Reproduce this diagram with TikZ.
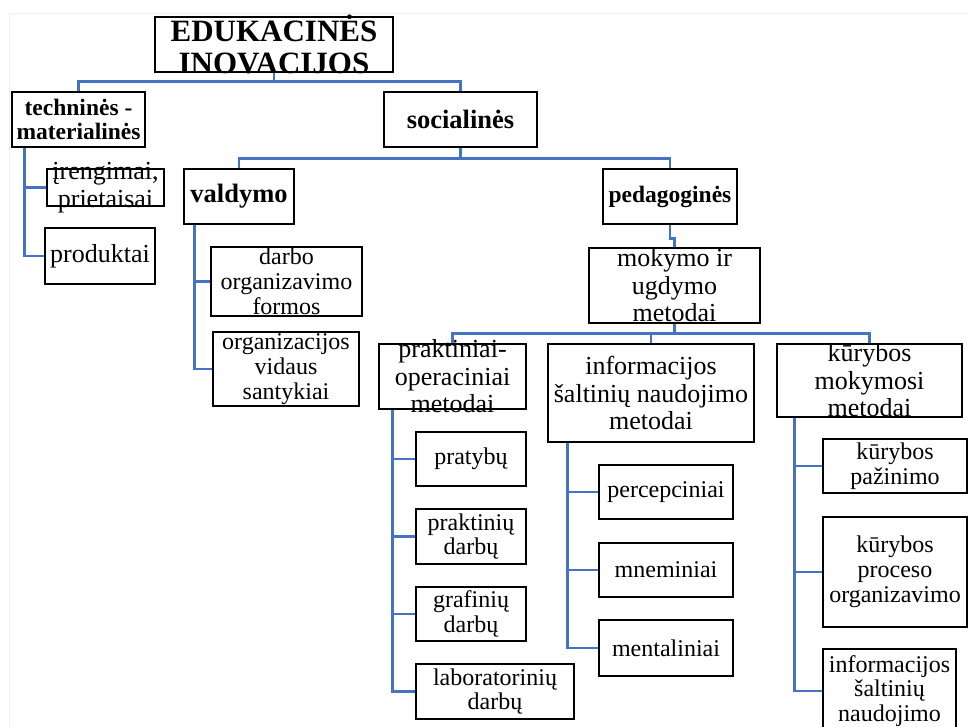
\documentclass[tikz,border=0pt]{standalone}
\usepackage{fontspec}
\setmainfont{Liberation Serif}

\definecolor{linkblue}{HTML}{4472C4}
\definecolor{framegray}{HTML}{EEEFF5}

\tikzset{
  box/.style={draw=black, line width=2.8pt, rectangle, inner sep=0pt},
  link/.style={draw=linkblue, line width=2.4pt},
  ttl/.style={inner sep=0pt, align=center, font=\bfseries\fontsize{31}{31.5}\selectfont},
  bsm/.style={inner sep=0pt, align=center, font=\bfseries\fontsize{23.5}{24.5}\selectfont},
  blg/.style={inner sep=0pt, align=center, font=\bfseries\fontsize{26.5}{27}\selectfont},
  tlg/.style={inner sep=0pt, align=center, font=\fontsize{26}{27.5}\selectfont},
  tsm/.style={inner sep=0pt, align=center, font=\fontsize{24}{24.8}\selectfont},
}

% #1 name, #2 left, #3 top, #4 right, #5 bottom, #6 text style, #7 text
\newcommand{\cellbox}[7]{%
  \node[box, minimum width={(#4)-(#2)}, minimum height={(#5)-(#3)}]
    (#1) at ({((#2)+(#4))/2},{((#3)+(#5))/2}) {};
  \node[#6] (#1-txt) at (#1.center) {#7};
}

\begin{document}
\begin{tikzpicture}[x=1pt,y=-1pt]
\useasboundingbox (0,0) rectangle (968,727);
\clip (0,0) rectangle (968,727);

% faint page frame
\draw[framegray, line width=1pt] (9,740) -- (9,14) -- (980,14);

% boxes
\cellbox{title}{155}{17}{393}{72}{ttl}{EDUKACINĖS\\INOVACIJOS}
\cellbox{tech}{12}{92}{145}{147}{bsm}{techninės -\\materialinės}
\cellbox{soc}{384}{92}{537}{147}{blg}{socialinės}
\cellbox{iren}{47}{169}{164}{206}{tlg}{įrengimai,\\prietaisai}
\cellbox{prod}{45}{228}{155}{284}{tlg}{produktai}
\cellbox{vald}{184}{169}{294}{224}{blg}{valdymo}
\cellbox{ped}{603}{169}{737}{224}{bsm}{pedagoginės}
\cellbox{darbo}{211}{247}{362}{316}{tsm}{darbo\\organizavimo\\formos}
\cellbox{orgv}{213}{332}{359}{406}{tsm}{organizacijos\\vidaus\\santykiai}
\cellbox{mok}{589}{248}{760}{323}{tlg}{mokymo ir\\ugdymo\\metodai}
\cellbox{prak}{379}{344}{526}{409}{tlg}{praktiniai-\\operaciniai\\metodai}
\cellbox{info}{548}{344}{754}{442}{tlg}{informacijos\\šaltinių naudojimo\\metodai}
\cellbox{kur}{777}{344}{962}{417}{tlg}{kūrybos\\mokymosi\\metodai}
\cellbox{prat}{416}{432}{526}{486}{tsm}{pratybų}
\cellbox{prd}{416}{509}{526}{564}{tsm}{praktinių\\darbų}
\cellbox{graf}{416}{587}{526}{641}{tsm}{grafinių\\darbų}
\cellbox{lab}{416}{664}{574}{719}{tsm}{laboratorinių\\darbų}
\cellbox{perc}{599}{465}{733}{519}{tsm}{percepciniai}
\cellbox{mnem}{599}{543}{733}{597}{tsm}{mneminiai}
\cellbox{ment}{599}{620}{733}{676}{tsm}{mentaliniai}
\cellbox{kpaz}{823}{439}{967}{493}{tsm}{kūrybos\\pažinimo}
\cellbox{kproc}{823}{517}{967}{627}{tsm}{kūrybos\\proceso\\organizavimo}
\cellbox{kinf}{823}{649}{956}{733}{tsm}{informacijos\\šaltinių\\naudojimo}

% tree links
\draw[link] (title.south) -- +(0,8) -| (tech.north);
\draw[link] (title.south) -- +(0,8) -| (soc.north);
\draw[link] (soc.south) -- +(0,10) -| (vald.north);
\draw[link] (soc.south) -- +(0,10) -| (ped.north);
\draw[link] (ped.south) -- +(0,13) -| (mok.north);
\draw[link] (mok.south) -- +(0,9) -| (prak.north);
\draw[link] (mok.south) -- +(0,9) -| (info.north);
\draw[link] (mok.south) -- +(0,9) -| (kur.north);

% side links
\draw[link] ([xshift=14pt]tech.south west) |- (iren.west);
\draw[link] ([xshift=14pt]tech.south west) |- (prod.west);
\draw[link] ([xshift=12pt]vald.south west) |- (darbo.west);
\draw[link] ([xshift=12pt]vald.south west) |- (orgv.west);
\draw[link] ([xshift=15pt]prak.south west) |- (prat.west);
\draw[link] ([xshift=15pt]prak.south west) |- (prd.west);
\draw[link] ([xshift=15pt]prak.south west) |- (graf.west);
\draw[link] ([xshift=15pt]prak.south west) |- (lab.west);
\draw[link] ([xshift=21pt]info.south west) |- (perc.west);
\draw[link] ([xshift=21pt]info.south west) |- (mnem.west);
\draw[link] ([xshift=21pt]info.south west) |- (ment.west);
\draw[link] ([xshift=19pt]kur.south west) |- (kpaz.west);
\draw[link] ([xshift=19pt]kur.south west) |- (kproc.west);
\draw[link] ([xshift=19pt]kur.south west) |- (kinf.west);
\end{tikzpicture}
\end{document}
